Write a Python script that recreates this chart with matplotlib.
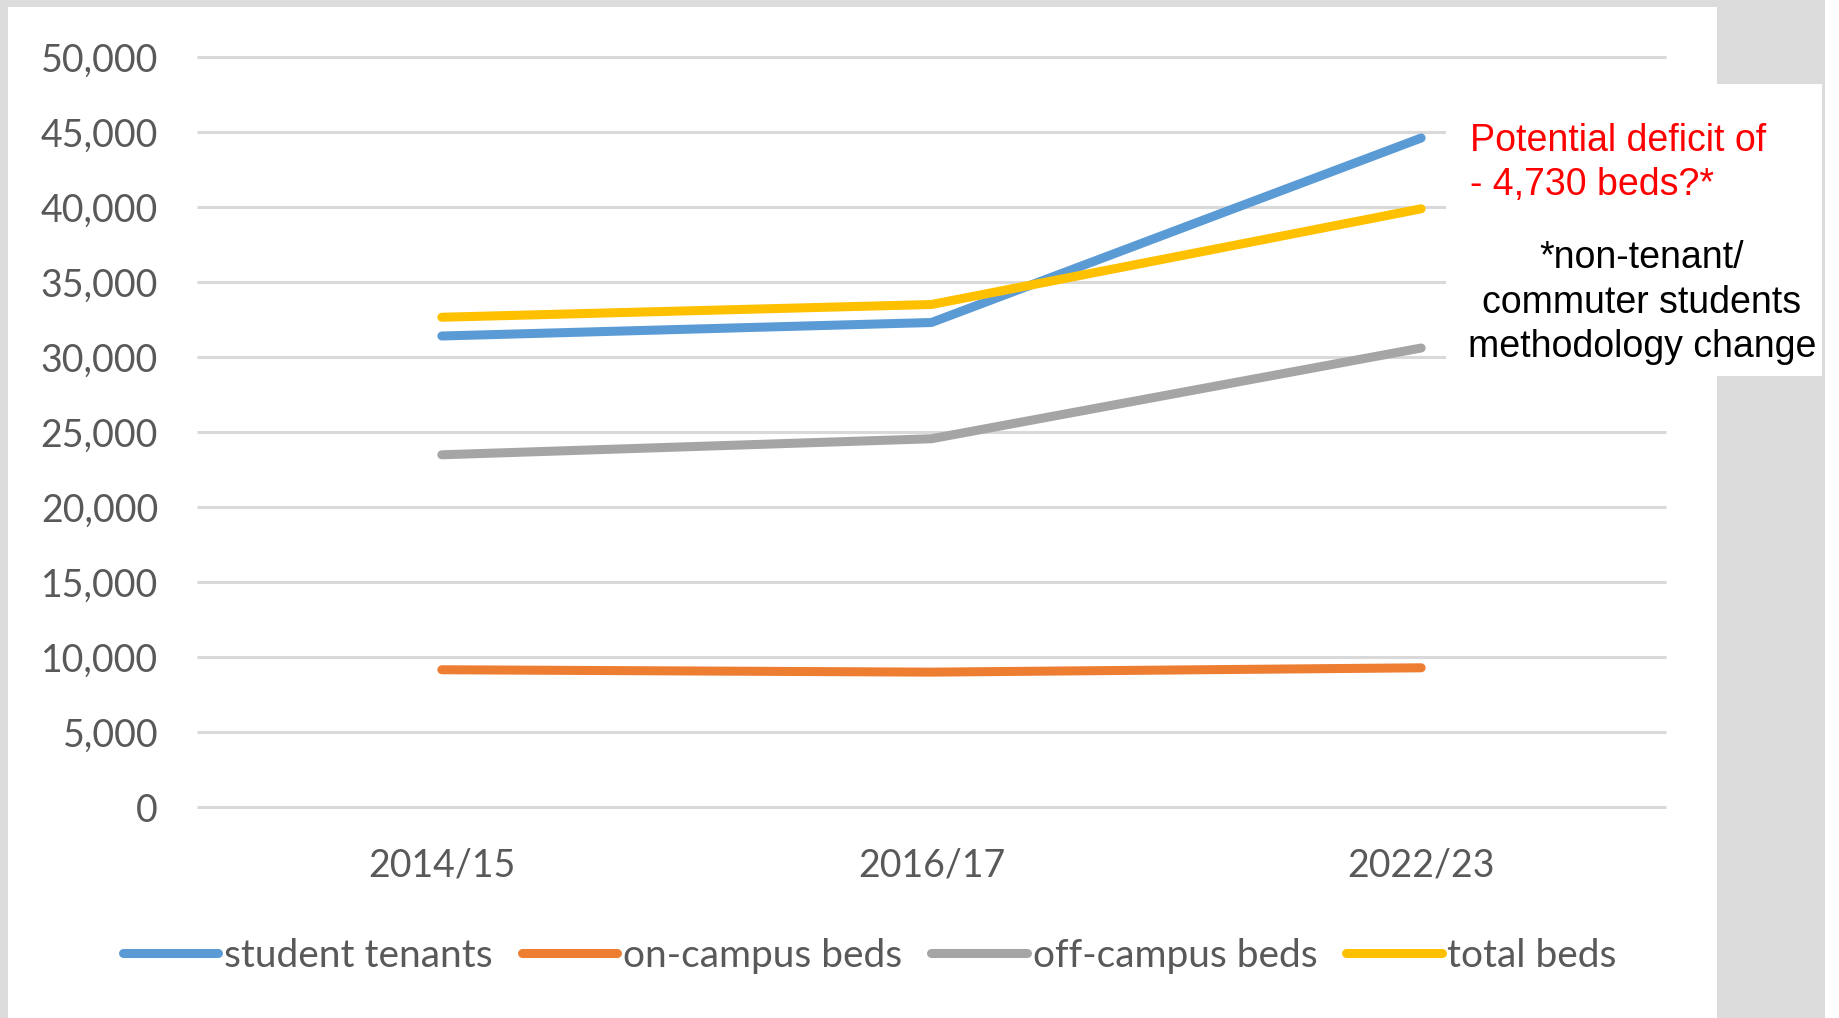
import matplotlib
matplotlib.use("Agg")
import matplotlib.pyplot as plt
from matplotlib.patches import Rectangle
from matplotlib.ticker import FuncFormatter

# values
years = ["2014/15", "2016/17", "2022/23"]
student_tenants = [31400, 32300, 44600]
on_campus = [9150, 8990, 9280]
off_campus = [23480, 24550, 30600]
total_beds = [32650, 33500, 39880]
y_ticks = list(range(0, 50001, 5000))

W, H = 1840, 1018
fig = plt.figure(figsize=(W / 100, H / 100), dpi=100, facecolor="#dcdcdc")


def px_rect(x0, y0, x1, y1, **kw):
    # rectangle in pixel coords (top-left origin)
    return Rectangle((x0 / W, 1 - y1 / H), (x1 - x0) / W, (y1 - y0) / H,
                     transform=fig.transFigure, **kw)


# white slide panel
fig.add_artist(px_rect(8, 7, 1717, H, facecolor="white", edgecolor="none", zorder=-10))
fig.add_artist(px_rect(1825, 0, W, H, facecolor="white", edgecolor="none", zorder=-10))

ax = fig.add_axes([197 / W, (H - 807) / H, 1469 / W, 750 / H])
ax.set_facecolor("none")
ax.set_xlim(0, 3)
ax.set_ylim(0, 50000)
for s in ax.spines.values():
    s.set_visible(False)

ax.hlines(y_ticks, 0, 3, color="#d9d9d9", lw=2.2, clip_on=False, zorder=1)

x = [0.5, 1.5, 2.5]
series = [
    ("student tenants", student_tenants, "#5b9bd5"),
    ("on-campus beds", on_campus, "#ed7d31"),
    ("off-campus beds", off_campus, "#a5a5a5"),
    ("total beds", total_beds, "#ffc000"),
]
for label, vals, col in series:
    ax.plot(x, vals, color=col, lw=6.5, solid_capstyle="round",
            solid_joinstyle="round", label=label, zorder=3)

ax.set_yticks(y_ticks)
ax.yaxis.set_major_formatter(FuncFormatter(lambda v, p: f"{int(v):,}"))
ax.set_xticks(x)
ax.set_xticklabels(years)
ax.tick_params(axis="y", length=0, pad=28, labelsize=27, labelcolor="#595959")
ax.tick_params(axis="x", length=0, pad=29, labelsize=27, labelcolor="#595959")
for t in ax.get_xticklabels() + ax.get_yticklabels():
    t.set_fontfamily("Lato")

leg = fig.legend(loc="center", bbox_to_anchor=(870 / W, 1 - 956 / H), ncol=4,
                 frameon=False, prop={"family": "Lato", "size": 28},
                 handlelength=2.45, handletextpad=0.15, columnspacing=0.75)
for t in leg.get_texts():
    t.set_color("#595959")

# annotation box
fig.add_artist(px_rect(1446, 84, 1822, 376, facecolor="white", edgecolor="none", zorder=5))
fig.text(1470 / W, 1 - 195 / H, "Potential deficit of\n- 4,730 beds?*", color="red",
         fontsize=27, family="Liberation Sans", ha="left", va="baseline",
         linespacing=1.27, zorder=6)
fig.text(1642 / W, 1 - 357 / H, "*non-tenant/\ncommuter students\nmethodology change",
         color="black", fontsize=27, family="Liberation Sans", ha="center",
         va="baseline", multialignment="center", linespacing=1.3, zorder=6)

fig.savefig("out.png", dpi=100, facecolor=fig.get_facecolor())
